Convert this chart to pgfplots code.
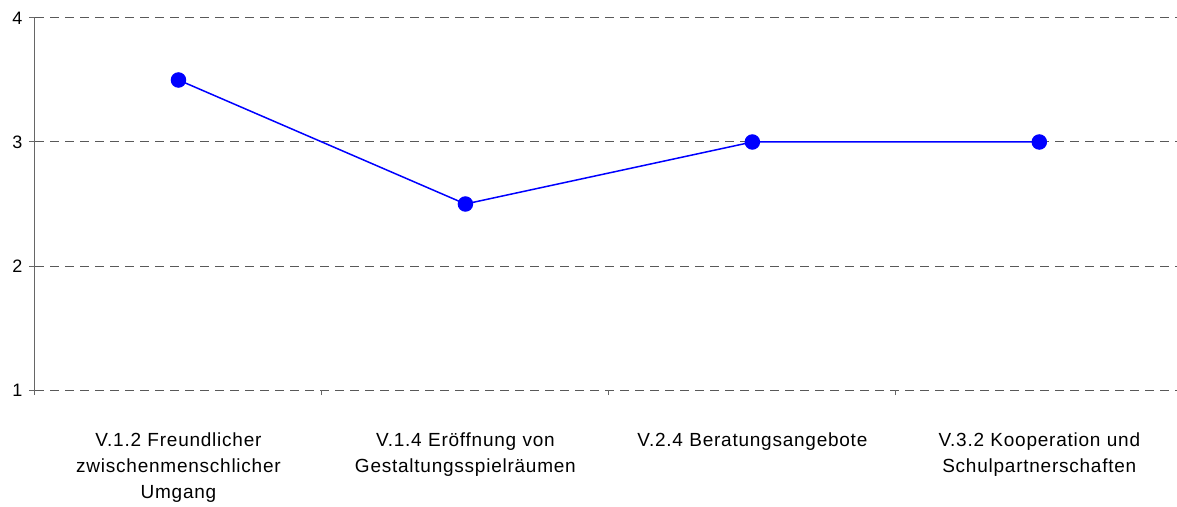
\documentclass[border=0pt]{standalone}
\usepackage{fontspec}
\setmainfont{Liberation Sans}
\newfontfamily\labelfont[LetterSpace=4]{Liberation Sans}
\usepackage{pgfplots}
\pgfplotsset{compat=1.18}
\begin{document}
\begin{tikzpicture}
\begin{axis}[
  at={(35pt,116pt)}, anchor=south west,
  scale only axis, width=1142pt, height=372pt,
  xmin=0, xmax=3.98, ymin=1, ymax=4,
  axis y line*=left, axis x line*=bottom,
  x axis line style={draw=none},
  y axis line style={-, draw=black!60, line width=1pt},
  ytick={1,2,3,4},
  ymajorgrids,
  grid style={dash pattern=on 9pt off 6pt, draw=black!65, line width=1pt},
  xtick={0.5,1.5,2.5,3.5},
  xticklabels={{V.1.2 Freundlicher\\zwischenmenschlicher\\Umgang},{V.1.4 Eröffnung von\\Gestaltungsspielräumen},{V.2.4 Beratungsangebote},{V.3.2 Kooperation und\\Schulpartnerschaften}},
  major x tick style={draw=none},
  minor xtick={0,1,2,3},
  minor x tick style={draw=black!60, line width=1pt},
  minor tick length=5pt,
  major tick length=6pt,
  tick align=outside,
  ytick style={draw=black!60, line width=1pt},
  /pgf/number format/assume math mode=true,
  xticklabel style={align=center, text width=280pt, font=\labelfont\fontsize{19}{26}\selectfont, yshift=-33pt},
  yticklabel style={font=\fontsize{18}{20}\selectfont, xshift=-3pt},
  clip=false,
]
\addplot[blue, line width=1.5pt, mark=*, mark size=7pt, mark options={fill=blue, draw=blue}] coordinates {(0.5,3.5) (1.5,2.5) (2.5,3) (3.5,3)};
\end{axis}
\pgfresetboundingbox
\path (0,0) rectangle (1177pt,506pt);
\end{tikzpicture}
\end{document}
